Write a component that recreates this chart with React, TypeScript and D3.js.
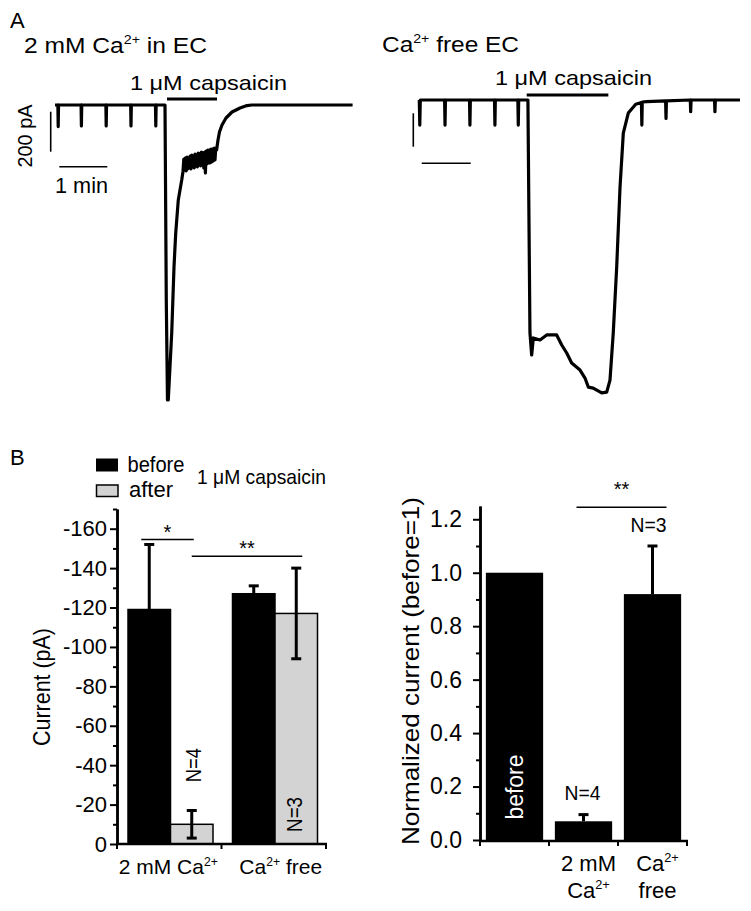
import { useRef, useEffect } from 'react'
import * as d3 from 'd3'

const FONT = '"Liberation Sans", Arial, Helvetica, sans-serif'

// A: whole-cell current traces, [time (s), current (pA)]
const traceCa: [number, number][] = [
  [0, 0], [3.6, 0], [4, -108], [4.4, 0],
  [32.6, 0], [33, -105], [33.4, 0],
  [63.6, 0], [64, -105], [64.4, 0],
  [94.6, 0], [95, -105], [95.4, 0],
  [125.6, 0], [126, -105], [126.4, 0],
  [137.5, 0], [139.1, -975], [140.6, -1475], [141.6, -1475], [145.9, -1140],
  [148.75, -810], [150.9, -640], [154.1, -475], [158.4, -375],
  [160, -332], [161, -270], [162, -325], [163, -265], [164, -330], [165, -260],
  [166, -320], [167, -265], [168, -315], [169, -255], [170, -320], [171, -250],
  [172, -310], [173, -255], [174, -315], [175, -245], [176, -305], [177, -250],
  [178, -310], [179, -240], [180, -300], [181, -245], [182, -305], [183, -235],
  [184, -300], [185, -240], [186, -315], [187, -235], [188, -340], [189, -230],
  [190, -295], [191, -225], [192, -290], [193, -225], [194, -290], [195, -220],
  [196, -285], [197, -220], [198, -280], [199, -215], [200, -275], [201, -215],
  [202, -225], [203.75, -175], [205.6, -135],
  [208.75, -100], [213.75, -65], [221.25, -35], [231.25, -15], [240, -3],
  [246, 0], [372, 0],
]
const traceFree: [number, number][] = [
  [0, 0], [0.6, -150], [1.2, 0],
  [31, 0], [31.5, -150], [32, 0],
  [61.5, 0], [62, -150], [62.5, 0],
  [92.1, 0], [92.6, -150], [93.1, 0],
  [120.7, 0], [121.2, -150], [121.7, 0],
  [133, 0], [135.5, -1395], [137.6, -1527], [139.6, -1425], [147.8, -1437],
  [156, -1407], [168.2, -1407], [174.4, -1467], [180.5, -1515], [186.6, -1575],
  [196.8, -1617], [202.9, -1665], [206.9, -1719], [213, -1725], [223.3, -1754],
  [229.5, -1749], [233.5, -1677], [237.5, -1395], [241.7, -1000], [245.8, -521],
  [249.8, -198], [255.9, -78], [265, -25], [272, -15], [272.5, -150], [273, -12],
  [278.4, -10], [301.6, -5], [302.1, -110], [302.6, -5],
  [331.8, 0], [332.3, -70], [332.8, 0], [361.5, 0], [362, -70], [362.5, 0], [392.7, 0],
]
const capsaicinCa = [140, 202.5]
const capsaicinFree = [131.5, 231.5]

// B left: peak current, mean and sem
const groups = ['2 mM Ca^{2+}', 'Ca^{2+} free']
const conditions = ['before', 'after']
const beforeMean = [-119, -127]
const beforeSem = [33, 4]
const afterMean = [-10, -117]
const afterSem = [7, 23]
const groupN = ['N=4', 'N=3']
const currentTicks = [0, -20, -40, -60, -80, -100, -120, -140, -160]
const currentMinor = [-10, -30, -50, -70, -90, -110, -130, -150, -170]

// B right: normalized current
const normCats = ['before', '2 mM Ca^{2+}', 'Ca^{2+} free']
const normLabels = [[], ['2 mM', 'Ca^{2+}'], ['Ca^{2+}', 'free']]
const normMean = [1.0, 0.07, 0.92]
const normSem = [0, 0.025, 0.18]
const normTicks = [0, 0.2, 0.4, 0.6, 0.8, 1.0, 1.2]
const normMinor = [0.1, 0.3, 0.5, 0.7, 0.9, 1.1]

// text with ^{..} superscripts
function label(g: any, x: number, y: number, text: string, o: any = {}) {
  const size = o.size ?? 20
  const t = g.append('text')
    .attr('x', x).attr('y', y)
    .attr('font-family', FONT)
    .attr('font-size', size)
    .attr('fill', o.fill ?? '#000')
    .attr('text-anchor', o.anchor ?? 'start')
  if (o.rotate) t.attr('transform', `rotate(-90 ${x} ${y})`)
  if (o.len) t.attr('textLength', o.len).attr('lengthAdjust', 'spacingAndGlyphs')
  let raised = false
  text.split(/(\^\{[^}]*\})/).filter((s) => s.length).forEach((p) => {
    if (p.startsWith('^{')) {
      t.append('tspan').attr('font-size', size * 0.58).attr('dy', -size * 0.4).text(p.slice(2, -1))
      raised = true
    } else {
      const s = t.append('tspan').text(p)
      if (raised) {
        s.attr('dy', size * 0.4)
        raised = false
      }
    }
  })
  return t
}

function hline(g: any, x1: number, x2: number, y: number, w: number) {
  g.append('line').attr('x1', x1).attr('x2', x2).attr('y1', y).attr('y2', y).attr('stroke', '#000').attr('stroke-width', w)
}
function vline(g: any, x: number, y1: number, y2: number, w: number) {
  g.append('line').attr('x1', x).attr('x2', x).attr('y1', y1).attr('y2', y2).attr('stroke', '#000').attr('stroke-width', w)
}

function drawTraces(svg: any) {
  const g = svg.append('g')
  label(g, 10, 28, 'A', { size: 22 })
  label(g, 24, 53, '2 mM Ca^{2+} in EC', { size: 22, len: 183 })
  label(g, 382, 52, 'Ca^{2+} free EC', { size: 22, len: 137 })

  const panels = [
    { data: traceCa, cap: capsaicinCa, xs: d3.scaleLinear().domain([0, 60]).range([55, 103]), ys: d3.scaleLinear().domain([0, -200]).range([105, 145]), capDy: -6, textX: 130, textY: 90, barX: -4.3, barDy: 6.7, minY: 166.7, minT: 5.4, minLabel: true },
    { data: traceFree, cap: capsaicinFree, xs: d3.scaleLinear().domain([0, 60]).range([419.3, 468.3]), ys: d3.scaleLinear().domain([0, -200]).range([100, 133.4]), capDy: -5, textX: 495, textY: 85, barX: -6, barDy: 13.3, minY: 163.3, minT: 3, minLabel: false },
  ]
  panels.forEach((p) => {
    const line = d3.line<[number, number]>().x((d) => p.xs(d[0])).y((d) => p.ys(d[1]))
    g.append('path').attr('d', line(p.data)).attr('fill', 'none').attr('stroke', '#000')
      .attr('stroke-width', 3.2).attr('stroke-linejoin', 'round')
    // capsaicin application
    hline(g, p.xs(p.cap[0]), p.xs(p.cap[1]), p.ys(0) + p.capDy, 3)
    label(g, p.textX, p.textY, '1 \u03bcM capsaicin', { size: 21, len: 157 })
    // scale bars: 200 pA, 1 min
    const bx = p.xs(0) + p.barX
    vline(g, bx, p.ys(0) + p.barDy, p.ys(-200) + p.barDy, 1.6)
    hline(g, p.xs(p.minT), p.xs(p.minT + 60), p.minY, 1.6)
    if (p.minLabel) {
      label(g, 32, (p.ys(0) + p.ys(-200)) / 2 + 11, '200 pA', { size: 21, rotate: true, anchor: 'middle', len: 63 })
      label(g, 55, 193, '1 min', { size: 22, len: 53 })
    }
  })
}

function styleAxis(ax: any, size: number) {
  ax.attr('font-size', null).attr('font-family', null)
  ax.select('.domain').attr('stroke-width', 2.5)
  ax.selectAll('.tick line').attr('stroke-width', 2)
  ax.selectAll('.tick text').attr('font-size', size).attr('font-family', FONT).attr('fill', '#000')
}

function drawCurrentBars(svg: any) {
  const g = svg.append('g')
  const y = d3.scaleLinear().domain([0, -170]).range([844, 509])
  const x0 = d3.scaleBand().domain(groups).range([117, 326])
  const x1 = d3.scaleBand().domain(conditions).range([11, 96])
  const rows = groups.flatMap((grp, i) => [
    { grp, c: 'before', mean: beforeMean[i], sem: beforeSem[i] },
    { grp, c: 'after', mean: afterMean[i], sem: afterSem[i] },
  ])
  const cx = (d: any) => (x0(d.grp) as number) + (x1(d.c) as number) + x1.bandwidth() / 2

  label(g, 10, 465, 'B', { size: 22 })
  // legend
  g.append('rect').attr('x', 96).attr('y', 458.5).attr('width', 22).attr('height', 13).attr('fill', '#000')
  g.append('rect').attr('x', 96.5).attr('y', 485).attr('width', 21.5).attr('height', 11.5).attr('fill', '#d3d3d3').attr('stroke', '#000').attr('stroke-width', 1.5)
  label(g, 127.5, 471.5, 'before', { size: 22, len: 57 })
  label(g, 129, 497, 'after', { size: 22, len: 44 })
  label(g, 197, 484, '1 \u03bcM capsaicin', { size: 21, len: 129 })

  g.selectAll('rect.bar').data(rows).join('rect').attr('class', 'bar')
    .attr('x', (d: any) => (x0(d.grp) as number) + (x1(d.c) as number))
    .attr('y', (d: any) => y(d.mean))
    .attr('width', x1.bandwidth())
    .attr('height', (d: any) => y(0) - y(d.mean))
    .attr('fill', (d: any) => (d.c === 'before' ? '#000' : '#d3d3d3'))
    .attr('stroke', '#000').attr('stroke-width', 1.5)

  rows.forEach((d) => {
    const x = cx(d)
    vline(g, x, y(d.mean - d.sem), y(d.mean + d.sem), 3)
    hline(g, x - 5, x + 5, y(d.mean - d.sem), 3)
    hline(g, x - 5, x + 5, y(d.mean + d.sem), 3)
  })

  // axes
  const minor = g.append('g').attr('transform', 'translate(117,0)')
    .call(d3.axisLeft(y).tickValues(currentMinor).tickSize(4).tickSizeOuter(0).tickFormat(() => ''))
  styleAxis(minor, 22)
  const major = g.append('g').attr('transform', 'translate(117,0)')
    .call(d3.axisLeft(y).tickValues(currentTicks).tickSize(7).tickPadding(3).tickSizeOuter(0).tickFormat((d: any) => String(d)))
  styleAxis(major, 22)
  hline(g, 116, 327, y(0), 2.5)
  const bounds = [...groups.map((grp) => x0(grp) as number), 326]
  bounds.forEach((b) => vline(g, b, y(0), y(0) + 5, 2))
  const labelDx = [-1, 7]
  groups.forEach((grp, i) => label(g, (x0(grp) as number) + x0.bandwidth() / 2 + labelDx[i], 874, grp, { size: 21, anchor: 'middle' }))
  label(g, 50, 687, 'Current (pA)', { size: 24, rotate: true, anchor: 'middle', len: 118 })

  // N labels
  label(g, cx(rows[1]) + 9, y(-40), groupN[0], { size: 22, rotate: true, anchor: 'middle', len: 34 })
  label(g, cx(rows[3]) + 6, y(-15), groupN[1], { size: 22, rotate: true, anchor: 'middle', len: 35 })

  // significance
  const sig = [
    { a: rows[0], b: rows[1], v: -154.5, text: '*', dx: [-8, 2] },
    { a: rows[1], b: rows[3], v: -146, text: '**', dx: [0, 6] },
  ]
  sig.forEach((s) => {
    const xa = cx(s.a) + s.dx[0]
    const xb = cx(s.b) + s.dx[1]
    hline(g, xa, xb, y(s.v), 1.5)
    label(g, (xa + xb) / 2, y(s.v) - 1, s.text, { size: 20, anchor: 'middle' })
  })
}

function drawNormBars(svg: any) {
  const g = svg.append('g')
  const y = d3.scaleLinear().domain([0, 1.25]).range([840, 505.9])
  const x = d3.scaleBand().domain(normCats).range([480, 687])
  const w = x.bandwidth() * 0.83
  const cx = (c: string) => (x(c) as number) + x.bandwidth() / 2

  g.selectAll('rect.nbar').data(normCats).join('rect').attr('class', 'nbar')
    .attr('x', (c: string) => cx(c) - w / 2)
    .attr('y', (c: string, i: number) => y(normMean[i]))
    .attr('width', w)
    .attr('height', (c: string, i: number) => y(0) - y(normMean[i]))
    .attr('fill', '#000')

  normCats.forEach((c, i) => {
    if (!normSem[i]) return
    const xc = cx(c)
    vline(g, xc, y(normMean[i] + normSem[i]), y(normMean[i]), 3)
    hline(g, xc - 5, xc + 5, y(normMean[i] + normSem[i]), 3)
  })

  const minor = g.append('g').attr('transform', 'translate(480,0)')
    .call(d3.axisLeft(y).tickValues(normMinor).tickSize(4).tickSizeOuter(0).tickFormat(() => ''))
  styleAxis(minor, 23)
  const major = g.append('g').attr('transform', 'translate(480,0)')
    .call(d3.axisLeft(y).tickValues(normTicks).tickSize(7).tickPadding(11).tickSizeOuter(0).tickFormat(d3.format('.1f') as any))
  styleAxis(major, 23)
  hline(g, 479, 688, y(0) + 1, 2.5)
  const bounds = [...normCats.map((c) => x(c) as number), 687]
  bounds.forEach((b) => vline(g, b, y(0), y(0) + 6, 2))

  normCats.forEach((c, i) => {
    normLabels[i].forEach((ln, k) => label(g, cx(c) + 5, 871 + k * 27, ln, { size: 22, anchor: 'middle' }))
  })
  label(g, 419, 671, 'Normalized current (before=1)', { size: 24, rotate: true, anchor: 'middle', len: 348 })
  label(g, 523, 787, normCats[0], { size: 23, rotate: true, anchor: 'middle', fill: '#fff', len: 65 })
  label(g, cx(normCats[1]) - 1, 800, groupN[0], { size: 21, anchor: 'middle', len: 36 })
  label(g, cx(normCats[2]) - 4, 532, groupN[1], { size: 21, anchor: 'middle', len: 36 })

  const xa = cx(normCats[1]) - 7
  const xb = cx(normCats[2]) + 14
  hline(g, xa, xb, y(1.245), 1.5)
  label(g, (xa + xb) / 2, 496, '**', { size: 20, anchor: 'middle' })
}

const App = () => {
  const svgRef = useRef<SVGSVGElement>(null)

  useEffect(() => {
    const svg = d3.select(svgRef.current)
    svg.selectAll('*').remove()
    svg.append('rect').attr('width', 751).attr('height', 911).attr('fill', '#fff')
    drawTraces(svg)
    drawCurrentBars(svg)
    drawNormBars(svg)
  }, [])

  return (
    <svg
      ref={svgRef}
      width={751}
      height={911}
      style={{ position: 'absolute', left: 0, top: 0, display: 'block' }}
    />
  )
}

export default App
